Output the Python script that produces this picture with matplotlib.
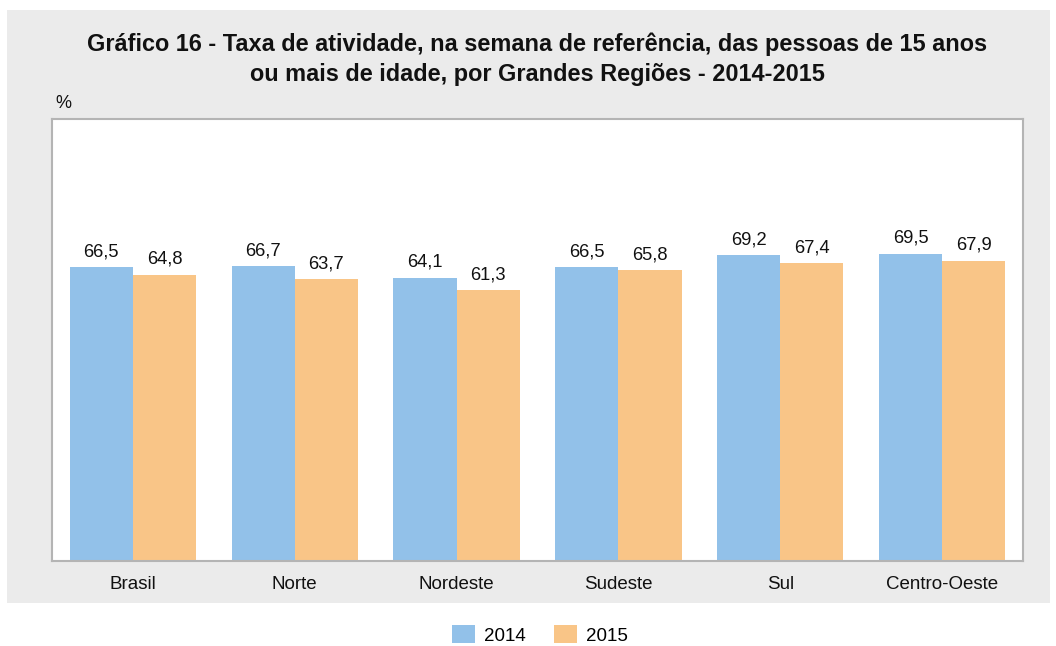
import matplotlib
matplotlib.use("Agg")
import matplotlib.pyplot as plt
from matplotlib.patches import Rectangle, Patch
import numpy as np

categories = ["Brasil", "Norte", "Nordeste", "Sudeste", "Sul", "Centro-Oeste"]
series_names = ["2014", "2015"]
values_2014 = [66.5, 66.7, 64.1, 66.5, 69.2, 69.5]
values_2015 = [64.8, 63.7, 61.3, 65.8, 67.4, 67.9]
title = ("Gráfico 16 - Taxa de atividade, na semana de referência, das pessoas de 15 anos\n"
         "ou mais de idade, por Grandes Regiões - 2014-2015")

c14 = "#92C1E9"
c15 = "#F9C587"
FONT = ["Liberation Sans", "DejaVu Sans"]
plt.rcParams["font.family"] = FONT

W, H = 1056, 646
fig = plt.figure(figsize=(W / 100, H / 100), dpi=100)
fig.patch.set_facecolor("white")

# grey panel
fig.patches.append(Rectangle((7 / W, 1 - 603 / H), (1050 - 7) / W, (603 - 10) / H,
                             transform=fig.transFigure, facecolor="#EBEBEB",
                             edgecolor="none", zorder=-5))

ax = fig.add_axes([52 / W, 1 - 561 / H, (1023 - 52) / W, (561 - 119) / H])
ax.set_zorder(1)
ax.set_facecolor("white")
x = np.arange(len(categories))
bw = 0.39
b1 = ax.bar(x - bw / 2, values_2014, bw, color=c14, zorder=2)
b2 = ax.bar(x + bw / 2, values_2015, bw, color=c15, zorder=2)
for bars, vals in ((b1, values_2014), (b2, values_2015)):
    for r, v in zip(bars, vals):
        ax.annotate(f"{v:.1f}".replace(".", ","), (r.get_x() + r.get_width() / 2, v),
                    xytext=(0, 5), textcoords="offset points", ha="center",
                    va="bottom", fontsize=13.2, color="#111111")
ax.set_xlim(-0.5, len(categories) - 0.5)
ax.set_ylim(0, 100)
ax.set_yticks([])
ax.set_xticks(x)
ax.set_xticklabels(categories, fontsize=13.5, color="#111111")
ax.tick_params(axis="x", length=0, pad=11)
for s in ax.spines.values():
    s.set_color("#B4B4B4")
    s.set_linewidth(1.5)

fig.text(537 / W, 1 - 59 / H, title, ha="center", va="center", fontsize=16.9,
         fontweight="bold", color="#111111", linespacing=1.4)
fig.text(55 / W, 1 - 104 / H, "%", ha="left", va="center", fontsize=13, color="#111111")

handles = [Patch(facecolor=c14), Patch(facecolor=c15)]
fig.legend(handles, series_names, loc="center", bbox_to_anchor=(540 / W, 1 - 635 / H),
           ncol=2, frameon=False, fontsize=13.5, handlelength=1.2, handleheight=1.1,
           columnspacing=1.5, handletextpad=0.5)

fig.savefig("out.png", dpi=100)
